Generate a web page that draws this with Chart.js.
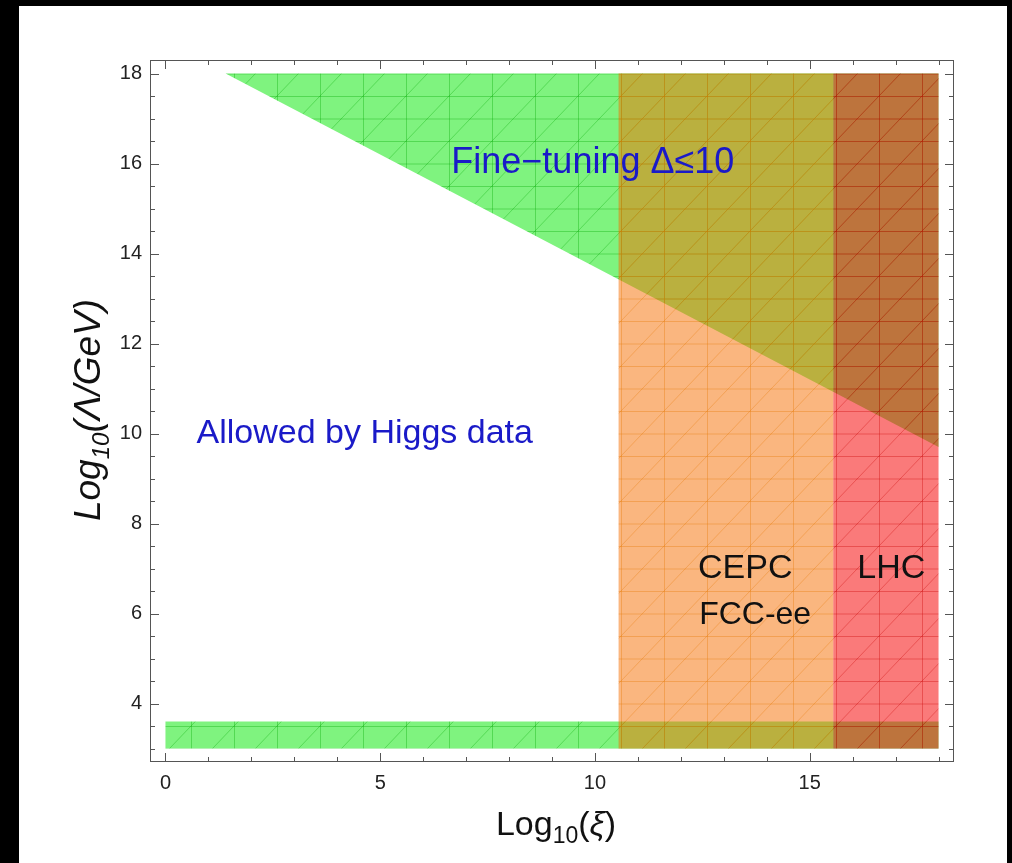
<!DOCTYPE html>
<html>
<head>
<meta charset="utf-8">
<script src="https://cdn.jsdelivr.net/npm/chart.js@4.4.0/dist/chart.umd.min.js"></script>
<style>
  html, body { margin: 0; padding: 0; background: #000; }
  #sheet { position: absolute; left: 19px; top: 6px; width: 988px; height: 857px; background: #fff; }
  canvas { display: block; }
</style>
</head>
<body>
<div id="sheet"><canvas id="chart" width="988" height="857"></canvas></div>
<script>
// Higgs-portal exclusion regions: Log10(xi) vs Log10(Lambda/GeV)

// Fine-tuning region (triangle) and the low-Lambda band
const fineTuningXi = [1.4, 18, 18];
const fineTuningLambda = [18, 18, 9.7];
const lowBandXi = [0, 18, 18, 0];
const lowBandLambda = [3.6, 3.6, 3.0, 3.0];

// Collider reach
const cepcXi = [10.55, 15.55, 15.55, 10.55];
const cepcLambda = [18, 18, 3, 3];
const lhcXi = [15.55, 18, 18, 15.55];
const lhcLambda = [18, 18, 3, 3];

// Ticks
const xiTickValues = [0, 5, 10, 15];
const xiMinorTicks = [0, 1, 2, 3, 4, 5, 6, 7, 8, 9, 10, 11, 12, 13, 14, 15, 16, 17, 18];
const lambdaTickValues = [4, 6, 8, 10, 12, 14, 16, 18];
const lambdaMinorTicks = [3, 3.5, 4, 4.5, 5, 5.5, 6, 6.5, 7, 7.5, 8, 8.5, 9, 9.5, 10, 10.5,
    11, 11.5, 12, 12.5, 13, 13.5, 14, 14.5, 15, 15.5, 16, 16.5, 17, 17.5, 18];

// Text inside the plot
const regionLabels = ['Fine\u2212tuning \u0394\u226410', 'Allowed by Higgs data', 'CEPC', 'FCC-ee', 'LHC'];
const labelXi = [9.95, 4.64, 13.5, 13.73, 16.9];
const labelLambda = [16.0, 10.0, 7.0, 5.96, 7.0];
const labelColors = ['#1a1ac8', '#1a1ac8', '#111', '#111', '#111'];
const labelSizes = [36, 34, 34, 32, 34];

const FONT = "'Liberation Sans', Arial, Helvetica, sans-serif";

function toPoints(xs, ys) {
    return xs.map((x, i) => ({ x: x, y: ys[i] }));
}

// translucent fill with the faint triangulated mesh look
function meshFill(fill, line) {
    const c = document.createElement('canvas');
    c.width = 43; c.height = 45;
    const g = c.getContext('2d');
    g.fillStyle = fill;
    g.fillRect(0, 0, 43, 45);
    g.strokeStyle = line;
    g.lineWidth = 1;
    g.beginPath();
    g.moveTo(0.5, 0); g.lineTo(0.5, 45);
    g.moveTo(0, 0.5); g.lineTo(43, 0.5);
    g.moveTo(0, 23); g.lineTo(43, 23);
    g.moveTo(0, 45); g.lineTo(43, 0);
    g.stroke();
    return g.createPattern(c, 'repeat');
}

const green = meshFill('rgba(0,232,0,0.5)', 'rgba(0,170,0,0.35)');
const orange = meshFill('rgba(245,110,0,0.5)', 'rgba(230,120,0,0.35)');
const red = meshFill('rgba(245,0,0,0.52)', 'rgba(200,0,0,0.35)');

function region(label, xs, ys, bg) {
    return {
        label: label,
        data: toPoints(xs, ys),
        backgroundColor: bg,
        borderWidth: 0,
        pointRadius: 0,
        fill: 'shape'
    };
}

const frameTicks = {
    id: 'frameTicks',
    afterDatasetsDraw(chart) {
        const { ctx, chartArea: a, scales: { x, y } } = chart;
        ctx.save();
        ctx.strokeStyle = '#555';
        ctx.lineWidth = 1;
        ctx.strokeRect(a.left + 0.5, a.top + 0.5, a.right - a.left - 1, a.bottom - a.top - 1);
        ctx.beginPath();
        xiMinorTicks.forEach(v => {
            const px = Math.round(x.getPixelForValue(v)) + 0.5;
            const len = xiTickValues.includes(v) ? 9 : 5;
            ctx.moveTo(px, a.bottom); ctx.lineTo(px, a.bottom - len);
            ctx.moveTo(px, a.top); ctx.lineTo(px, a.top + len);
        });
        lambdaMinorTicks.forEach(v => {
            const py = Math.round(y.getPixelForValue(v)) + 0.5;
            const len = lambdaTickValues.includes(v) ? 9 : 5;
            ctx.moveTo(a.left, py); ctx.lineTo(a.left + len, py);
            ctx.moveTo(a.right, py); ctx.lineTo(a.right - len, py);
        });
        ctx.stroke();

        // region labels
        ctx.textAlign = 'center';
        ctx.textBaseline = 'middle';
        regionLabels.forEach((t, i) => {
            ctx.font = `${labelSizes[i]}px ${FONT}`;
            ctx.fillStyle = labelColors[i];
            ctx.fillText(t, x.getPixelForValue(labelXi[i]), y.getPixelForValue(labelLambda[i]));
        });
        ctx.restore();
    }
};

// axis titles with subscripts
function drawSubTitle(ctx, parts, cx, cy) {
    let total = 0;
    parts.forEach(p => { ctx.font = p.font; total += ctx.measureText(p.text).width; });
    let pos = cx - total / 2;
    parts.forEach(p => {
        ctx.font = p.font;
        ctx.fillText(p.text, pos, cy + (p.dy || 0));
        pos += ctx.measureText(p.text).width;
    });
}

const axisTitles = {
    id: 'axisTitles',
    afterDraw(chart) {
        const ctx = chart.ctx;
        ctx.save();
        ctx.fillStyle = '#111';
        ctx.textAlign = 'left';
        ctx.textBaseline = 'alphabetic';
        drawSubTitle(ctx, [
            { text: 'Log', font: `34px ${FONT}` },
            { text: '10', font: `23px ${FONT}`, dy: 8 },
            { text: '(', font: `34px ${FONT}` },
            { text: '\u03BE', font: `italic 34px ${FONT}` },
            { text: ')', font: `34px ${FONT}` }
        ], 537, 829);

        ctx.translate(81, 404);
        ctx.rotate(-Math.PI / 2);
        drawSubTitle(ctx, [
            { text: 'Log', font: `italic 37px ${FONT}` },
            { text: '10', font: `italic 24px ${FONT}`, dy: 9 },
            { text: '(\u039B/GeV)', font: `italic 37px ${FONT}` }
        ], 0, 0);
        ctx.restore();
    }
};

new Chart(document.getElementById('chart'), {
    type: 'line',
    data: {
        datasets: [
            region('LHC', lhcXi, lhcLambda, red),
            region('CEPC / FCC-ee', cepcXi, cepcLambda, orange),
            region('Fine-tuning', fineTuningXi, fineTuningLambda, green),
            region('Low band', lowBandXi, lowBandLambda, green)
        ]
    },
    options: {
        responsive: false,
        animation: false,
        layout: { padding: { top: 54, right: 53, left: 0, bottom: 0 } },
        plugins: {
            legend: { display: false },
            tooltip: { enabled: false }
        },
        scales: {
            x: {
                type: 'linear',
                min: -0.36,
                max: 18.36,
                afterBuildTicks: s => { s.ticks = xiTickValues.map(v => ({ value: v })); },
                afterFit: s => { s.height = 101; },
                grid: { display: false, drawTicks: false },
                border: { display: false },
                ticks: { color: '#222', padding: 9, maxRotation: 0, font: { family: FONT, size: 20 } }
            },
            y: {
                type: 'linear',
                min: 2.7,
                max: 18.3,
                afterBuildTicks: s => { s.ticks = lambdaTickValues.map(v => ({ value: v })); },
                afterFit: s => { s.width = 131; },
                grid: { display: false, drawTicks: false },
                border: { display: false },
                ticks: { color: '#222', padding: 8, font: { family: FONT, size: 20 } }
            }
        }
    },
    plugins: [frameTicks, axisTitles]
});
</script>
</body>
</html>
